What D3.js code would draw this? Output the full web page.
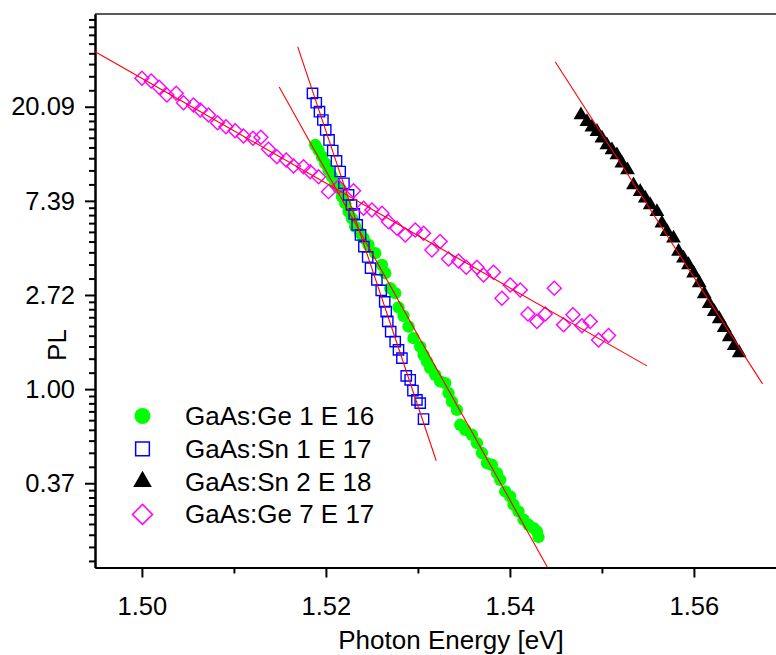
<!DOCTYPE html>
<html>
<head>
<meta charset="utf-8">
<script src="https://cdn.jsdelivr.net/npm/d3@7"></script>
<style>
  body { margin: 0; background: #fff; }
  svg { display: block; font-family: "Liberation Sans", Arial, sans-serif; }
  .axis path, .axis line { stroke: #000; stroke-width: 2; }
  .axis text { font-size: 25.5px; fill: #000; }
</style>
</head>
<body>
<div id="chart"></div>
<script>
// photon energy [eV] and ln(PL), one pair per point
var geLowData = [
  [1.51884, 2.593], [1.51920, 2.540], [1.51957, 2.469], [1.51992, 2.399], [1.52028, 2.328],
  [1.52065, 2.257], [1.52101, 2.187], [1.52137, 2.134], [1.52174, 2.045], [1.52210, 1.975],
  [1.52246, 1.885], [1.52283, 1.815], [1.52318, 1.726], [1.52373, 1.656], [1.52409, 1.603],
  [1.52463, 1.532], [1.52536, 1.444], [1.52609, 1.320], [1.52645, 1.231], [1.52699, 1.072],
  [1.52753, 1.019], [1.52789, 0.868], [1.52843, 0.778], [1.52898, 0.665], [1.52952, 0.541],
  [1.53025, 0.452], [1.53061, 0.364], [1.53098, 0.293], [1.53134, 0.223], [1.53188, 0.152],
  [1.53242, 0.081], [1.53297, 0.064], [1.53333, -0.042], [1.53370, -0.132], [1.53424, -0.220],
  [1.53460, -0.379], [1.53514, -0.432], [1.53587, -0.485], [1.53641, -0.573], [1.53696, -0.679],
  [1.53750, -0.786], [1.53804, -0.804], [1.53859, -0.892], [1.53895, -0.963], [1.53949, -1.087],
  [1.54003, -1.140], [1.54039, -1.228], [1.54093, -1.299], [1.54148, -1.387], [1.54202, -1.441],
  [1.54257, -1.476], [1.54293, -1.512], [1.54311, -1.571]
];

var snLowData = [
  [1.51854, 3.142], [1.51895, 3.042], [1.51930, 2.947], [1.51967, 2.859], [1.51998, 2.753],
  [1.52034, 2.647], [1.52074, 2.535], [1.52115, 2.424], [1.52155, 2.312], [1.52196, 2.187],
  [1.52246, 2.063], [1.52278, 1.956], [1.52308, 1.861], [1.52340, 1.744], [1.52376, 1.638],
  [1.52413, 1.514], [1.52454, 1.404], [1.52485, 1.285], [1.52554, 1.160], [1.52601, 1.049],
  [1.52639, 0.927], [1.52655, 0.824], [1.52672, 0.720], [1.52704, 0.611], [1.52753, 0.505],
  [1.52789, 0.417], [1.52826, 0.329], [1.52873, 0.141], [1.52916, 0.099], [1.52946, -0.015],
  [1.52989, -0.114], [1.53025, -0.149], [1.53061, -0.318]
];

var snHighData = [
  [1.54772, 2.912], [1.54837, 2.841], [1.54891, 2.781], [1.54946, 2.735], [1.55000, 2.665],
  [1.55054, 2.593], [1.55109, 2.540], [1.55163, 2.487], [1.55217, 2.399], [1.55278, 2.328],
  [1.55343, 2.169], [1.55416, 2.098], [1.55471, 2.028], [1.55525, 1.956], [1.55598, 1.885],
  [1.55652, 1.762], [1.55707, 1.673], [1.55778, 1.603], [1.55833, 1.461], [1.55887, 1.391],
  [1.55941, 1.320], [1.55996, 1.231], [1.56058, 1.128], [1.56112, 1.012], [1.56166, 0.906],
  [1.56221, 0.821], [1.56275, 0.746], [1.56329, 0.651], [1.56384, 0.555], [1.56438, 0.460],
  [1.56492, 0.385]
];

var geHighData = [
  [1.50000, 3.302], [1.50101, 3.273], [1.50188, 3.206], [1.50272, 3.124], [1.50373, 3.142],
  [1.50452, 3.042], [1.50561, 3.018], [1.50634, 2.965], [1.50724, 2.912], [1.50822, 2.830],
  [1.50913, 2.788], [1.51014, 2.745], [1.51104, 2.689], [1.51207, 2.665], [1.51293, 2.675],
  [1.51376, 2.548], [1.51467, 2.469], [1.51568, 2.434], [1.51648, 2.370], [1.51757, 2.363],
  [1.51829, 2.310], [1.51920, 2.257], [1.52028, 2.098], [1.52137, 2.151], [1.52300, 2.108],
  [1.52409, 1.921], [1.52500, 1.903], [1.52609, 1.868], [1.52680, 1.779], [1.52772, 1.709],
  [1.52862, 1.638], [1.52971, 1.691], [1.53061, 1.656], [1.53152, 1.479], [1.53242, 1.567],
  [1.53333, 1.383], [1.53441, 1.362], [1.53525, 1.295], [1.53641, 1.295], [1.53713, 1.213],
  [1.53822, 1.242], [1.53913, 0.966], [1.54003, 1.107], [1.54112, 1.054], [1.54196, 0.799],
  [1.54293, 0.718], [1.54384, 0.799], [1.54482, 1.072], [1.54583, 0.683], [1.54685, 0.789],
  [1.54783, 0.672], [1.54873, 0.718], [1.54963, 0.523], [1.55072, 0.569]
];

// linear fits in ln(PL), start and end point of each red line
var fitLines = [
  [[1.51492, 3.209], [1.54409, -1.894]],
  [[1.51693, 3.639], [1.53199, -0.761]],
  [[1.54492, 3.478], [1.56746, 0.056]],
  [[1.49492, 3.584], [1.55489, 0.247]]
];

var seriesNames = ["GaAs:Ge 1 E 16", "GaAs:Sn 1 E 17", "GaAs:Sn 2 E 18", "GaAs:Ge 7 E 17"];

var xMajorTicks = [1.50, 1.52, 1.54, 1.56];
var xMinorTicks = [1.51, 1.53, 1.55];
var yMajorExp = [-1, 0, 1, 2, 3];

var width = 776,
  height = 655;

var margin = { top: 14, left: 95, bottom: 567.5 };

var svg = d3
  .select("#chart")
  .append("svg")
  .attr("width", width)
  .attr("height", height)
  .style("overflow", "hidden");

// scales (plot keeps going past the right edge of the picture)
var x = d3.scaleLinear().domain([1.4949, 1.5749]).range([margin.left, margin.left + 736]);
var y = d3
  .scaleLog()
  .base(Math.E)
  .domain([Math.exp(-1.895), Math.exp(3.985)])
  .range([margin.bottom, margin.top]);

//minor ticks on ln axis: 8 linear steps between e^n and e^(n+1)
var yMinorTicks = [];
for (var n = -2; n <= 3; n++) {
  var lo = Math.exp(n),
    hi = Math.exp(n + 1);
  for (var k = 1; k <= 8; k++) {
    var v = lo + (k * (hi - lo)) / 9;
    if (v > y.domain()[0] && v < y.domain()[1]) yMinorTicks.push(v);
  }
}

// frame top line
svg
  .append("line")
  .attr("x1", margin.left)
  .attr("x2", margin.left + 736)
  .attr("y1", margin.top)
  .attr("y2", margin.top)
  .attr("stroke", "#222")
  .attr("stroke-width", 1.5);

// axes
svg
  .append("g")
  .attr("class", "axis")
  .attr("transform", "translate(0," + margin.bottom + ")")
  .call(d3.axisBottom(x).tickValues(xMinorTicks).tickSize(6).tickSizeOuter(0).tickFormat(""));

svg
  .append("g")
  .attr("class", "axis")
  .attr("transform", "translate(0," + margin.bottom + ")")
  .call(d3.axisBottom(x).tickValues(xMajorTicks).tickSize(10).tickSizeOuter(0).tickPadding(19).tickFormat(d3.format(".2f")));

svg
  .append("g")
  .attr("class", "axis")
  .attr("transform", "translate(" + margin.left + ",0)")
  .call(d3.axisLeft(y).tickValues(yMinorTicks).tickSize(6).tickSizeOuter(0).tickFormat(""));

svg
  .append("g")
  .attr("class", "axis")
  .attr("transform", "translate(" + margin.left + ",0)")
  .call(
    d3
      .axisLeft(y)
      .tickValues(yMajorExp.map(function (e) { return Math.exp(e); }))
      .tickSize(10)
      .tickSizeOuter(0)
      .tickPadding(10)
      .tickFormat(d3.format(".2f"))
  );

svg.selectAll(".axis text").attr("font-family", null).attr("font-size", null);

// axis labels
svg
  .append("text")
  .attr("x", 451)
  .attr("y", 649)
  .attr("text-anchor", "middle")
  .style("font-size", "26px")
  .text("Photon Energy [eV]");

svg
  .append("text")
  .attr("transform", "translate(66,345) rotate(-90)")
  .attr("text-anchor", "middle")
  .style("font-size", "26px")
  .text("PL");

// marker styles
var styles = [
  { shape: d3.symbolCircle, size: 120, lsize: 200, fill: "#00ff00", stroke: "none", rot: 0 },
  { shape: d3.symbolSquare, size: 106, lsize: 188, fill: "none", stroke: "#0000ff", rot: 0 },
  { shape: d3.symbolTriangle, size: 95, lsize: 150, fill: "#000", stroke: "none", rot: 0 },
  { shape: d3.symbolSquare, size: 98, lsize: 200, fill: "none", stroke: "#ff00ff", rot: 45 }
];

var allData = [geLowData, snLowData, snHighData, geHighData];

allData.forEach(function (data, i) {
  var s = styles[i];
  svg
    .append("g")
    .selectAll("path")
    .data(data)
    .enter()
    .append("path")
    .attr("d", d3.symbol().type(s.shape).size(s.size))
    .attr("transform", function (d) {
      return "translate(" + x(d[0]) + "," + y(Math.exp(d[1])) + ") rotate(" + s.rot + ")";
    })
    .attr("fill", s.fill)
    .attr("stroke", s.stroke)
    .attr("stroke-width", 1.4);
});

// red fit lines
var line = d3
  .line()
  .x(function (d) { return x(d[0]); })
  .y(function (d) { return y(Math.exp(d[1])); });

svg
  .append("g")
  .selectAll("path")
  .data(fitLines)
  .enter()
  .append("path")
  .attr("d", line)
  .attr("fill", "none")
  .attr("stroke", "#ff0000")
  .attr("stroke-width", 1.1);

// legend
var legend = svg
  .append("g")
  .selectAll("g")
  .data(seriesNames)
  .enter()
  .append("g")
  .attr("transform", function (d, i) {
    return "translate(142.5," + (416 + i * 32.8) + ")";
  });

legend
  .append("path")
  .attr("d", function (d, i) {
    return d3.symbol().type(styles[i].shape).size(styles[i].lsize)();
  })
  .attr("transform", function (d, i) { return "rotate(" + styles[i].rot + ")"; })
  .attr("fill", function (d, i) { return styles[i].fill; })
  .attr("stroke", function (d, i) { return styles[i].stroke; })
  .attr("stroke-width", 1.5);

legend
  .append("text")
  .attr("x", 42.5)
  .attr("y", 9)
  .style("font-size", "26px")
  .text(function (d) { return d; });
</script>
</body>
</html>
